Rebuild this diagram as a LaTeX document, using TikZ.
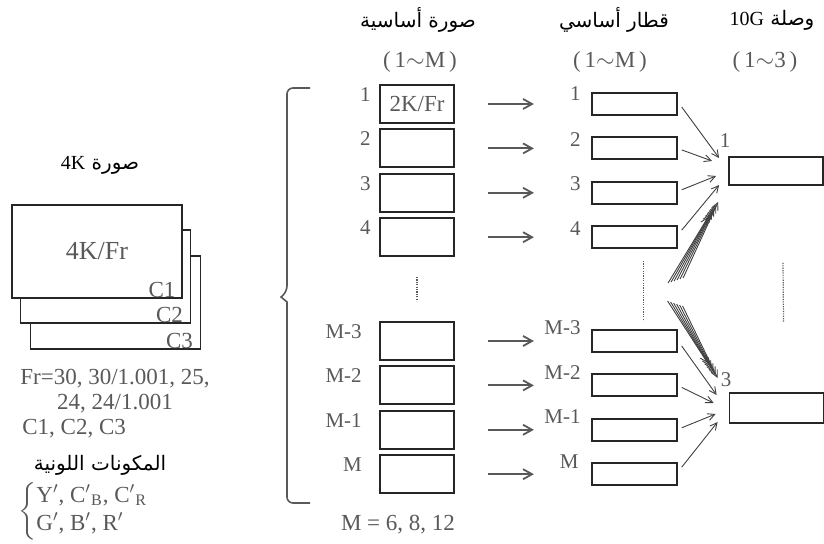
\documentclass[tikz,border=0pt]{standalone}
\usepackage{amsmath}
\usepackage{fontspec}
\setmainfont{Liberation Serif}
\newfontfamily\arabicfont[Script=Arabic]{DejaVu Sans}
\TeXXeTstate=1
\usetikzlibrary{positioning,arrows.meta}
\definecolor{inkgray}{gray}{0.35}
\definecolor{boxline}{gray}{0.15}

\begin{document}
\begin{tikzpicture}[
    x=0.5pt, y=-0.5pt, % one unit = one pixel of the layout, y downwards
    every node/.style={
        text=inkgray,
        font=\fontsize{11.5}{12.5}\selectfont
    },
    title/.style={
        text=black,
        font=\arabicfont\fontsize{10}{12}\selectfont
    },
    sheet/.style={
        rectangle,
        draw=boxline,
        fill=white,
        line width=0.8pt,
        minimum width=85pt,
        minimum height=46.5pt,
        inner sep=0pt
    },
    subbox/.style={
        rectangle,
        draw=boxline,
        line width=0.9pt,
        minimum width=37pt,
        minimum height=19pt,
        inner sep=0pt
    },
    trainbox/.style={
        rectangle,
        draw=boxline,
        line width=0.9pt,
        minimum width=42.5pt,
        minimum height=11pt,
        inner sep=0pt
    },
    linkbox/.style={
        rectangle,
        draw=boxline,
        line width=0.9pt,
        minimum width=47pt,
        minimum height=14pt,
        inner sep=0pt
    },
    idx/.style={
        inner sep=0pt,
        font=\fontsize{10.5}{12}\selectfont
    },
    feed/.style={
        draw=inkgray,
        line width=0.9pt,
        -{Straight Barb[length=4.5pt,width=5pt]},
        shorten <=16.5pt,
        shorten >=28.5pt
    },
    hop/.style={
        draw=black!75,
        line width=0.45pt,
        -{Straight Barb[length=3.5pt,width=3.5pt]}
    },
    vdots/.style={
        draw=inkgray,
        line width=0.6pt,
        dash pattern=on 0.6pt off 0.6pt
    }
]
    \useasboundingbox (0,0) rectangle (824,544);

    % --- 4K picture (left) ---
    \node [title] (pic4k) at (100,165) {\beginR صورة \beginL{\rmfamily 4K}\endL\endR};
    \node [sheet] (c3) at (115.5,302.5) {};
    \node [sheet] (c2) at (105.5,276.5) {};
    \node [sheet, font=\fontsize{13}{14}\selectfont] (c1) at (97,251.5) {4K/Fr};
    \node [anchor=south east, inner sep=0pt] (c1lbl) at ([xshift=-3.5pt,yshift=0.5pt]c1.south east) {C1};
    \node [anchor=south east, inner sep=0pt] (c2lbl) at ([xshift=-4pt,yshift=0.5pt]c2.south east) {C2};
    \node [anchor=south east, inner sep=0pt] (c3lbl) at ([xshift=-4pt,yshift=0.5pt]c3.south east) {C3};

    \node [align=center, inner sep=0pt] (rates) at (115,391) {Fr=30, 30/1.001, 25,\\24, 24/1.001};
    \node [anchor=west, inner sep=0pt] (comps) at (22,429) {C1, C2, C3};
    \node [title] (colour) at (100,465) {\beginR المكونات اللونية\endR};
    \node [anchor=west, inner sep=0pt] (forms) at (18,511)
        {$\left\{\begin{array}{@{}l@{}}
            \text{Y$'$, C$'{}_{\text{B}}$, C$'{}_{\text{R}}$}\\[1.5pt]
            \text{G$'$, B$'$, R$'$}
        \end{array}\right.$};

    % --- Sub images (1~M) ---
    \node [title] (subttl) at (418,20) {\beginR صورة أساسية\endR};
    \node (subrng) at (420,62) {(\,1$\sim$M\,)};

    \node [subbox] (m1) at (417,104) {2K/Fr};
    \node [subbox, below=2.3pt of m1] (m2) {};
    \node [subbox, below=2.3pt of m2] (m3) {};
    \node [subbox, below=2.3pt of m3] (m4) {};
    \node [subbox] (m5) at (417,341) {};
    \node [subbox, below=2.3pt of m5] (m6) {};
    \node [subbox, below=2.3pt of m6] (m7) {};
    \node [subbox, below=2.3pt of m7] (m8) {};

    \node [idx, anchor=north east] (n1) at ([xshift=-4pt,yshift=-1.5pt]m1.north west) {1};
    \node [idx, anchor=north east] (n2) at ([xshift=-4pt,yshift=-1.5pt]m2.north west) {2};
    \node [idx, anchor=north east] (n3) at ([xshift=-4pt,yshift=-1.5pt]m3.north west) {3};
    \node [idx, anchor=north east] (n4) at ([xshift=-4pt,yshift=-1.5pt]m4.north west) {4};
    \node [idx, anchor=north east] (n5) at ([xshift=-8.5pt,yshift=-1.5pt]m5.north west) {M-3};
    \node [idx, anchor=north east] (n6) at ([xshift=-8.5pt,yshift=-1.5pt]m6.north west) {M-2};
    \node [idx, anchor=north east] (n7) at ([xshift=-8.5pt,yshift=-1.5pt]m7.north west) {M-1};
    \node [idx, anchor=north east] (n8) at ([xshift=-8.5pt,yshift=-1.5pt]m8.north west) {M};

    \draw [vdots, shorten <=10pt, shorten >=10pt] (m4) -- (m5);
    \node (mvals) at (398,525) {M = 6, 8, 12};

    % big brace round the sub images
    \draw [inkgray, line width=0.8pt, rounded corners=3pt]
        (310,88) -- (287,88) -- (287,292) [sharp corners] -- (281,297) -- (287,302)
        [rounded corners=3pt] -- (287,503) -- (310,503);

    % --- Sub image trains (1~M) ---
    \node [title] (trnttl) at (614,20) {\beginR قطار أساسي\endR};
    \node (trnrng) at (610,62) {(\,1$\sim$M\,)};

    \node [trainbox, right=68pt of m1] (t1) {};
    \node [trainbox, right=68pt of m2] (t2) {};
    \node [trainbox, right=68pt of m3] (t3) {};
    \node [trainbox, right=68pt of m4] (t4) {};
    \node [trainbox, right=68pt of m5] (t5) {};
    \node [trainbox, right=68pt of m6] (t6) {};
    \node [trainbox, right=68pt of m7] (t7) {};
    \node [trainbox, right=68pt of m8] (t8) {};

    \node [idx, anchor=east] (u1) at ([xshift=-5pt,yshift=-0.5pt]t1.north west) {1};
    \node [idx, anchor=east] (u2) at ([xshift=-5pt,yshift=-1.5pt]t2.north west) {2};
    \node [idx, anchor=east] (u3) at ([xshift=-5pt,yshift=-1.5pt]t3.north west) {3};
    \node [idx, anchor=east] (u4) at ([xshift=-5pt,yshift=-1.5pt]t4.north west) {4};
    \node [idx, anchor=east] (u5) at ([xshift=-5pt,yshift=0.5pt]t5.north west) {M-3};
    \node [idx, anchor=east] (u6) at ([xshift=-5pt,yshift=0.5pt]t6.north west) {M-2};
    \node [idx, anchor=east] (u7) at ([xshift=-5pt,yshift=0.5pt]t7.north west) {M-1};
    \node [idx, anchor=east] (u8) at ([xshift=-6pt,yshift=0.5pt]t8.north west) {M};

    \draw [vdots] ([xshift=4.75pt,yshift=-6pt]t4.south) -- ([xshift=4.75pt,yshift=4pt]t5.north);

    % 1. sub image -> train
    \path [feed] (m1) -- (t1);
    \path [feed] (m2) -- (t2);
    \path [feed] (m3) -- (t3);
    \path [feed] (m4) -- (t4);
    \path [feed] (m5) -- (t5);
    \path [feed] (m6) -- (t6);
    \path [feed] (m7) -- (t7);
    \path [feed] (m8) -- (t8);

    % --- 10G links (1~3) ---
    \node [title] (lnkttl) at (772,20) {\beginR وصلة \beginL{\rmfamily 10G}\endL\endR};
    \node (lnkrng) at (765,62) {(\,1$\sim$3\,)};

    \node [linkbox] (l1) at (776,171) {};
    \node [linkbox, minimum height=15pt] (l3) at (776.5,408) {};
    \node [idx] (k1) at (725,141) {1};
    \node [idx] (k3) at (726,380) {3};

    \draw [vdots] ([xshift=3.5pt,yshift=-38.5pt]l1.south) -- ([xshift=3.5pt,yshift=35pt]l3.north);

    % 2. trains -> link 1
    \coordinate (in1a) at ([xshift=-4.5pt,yshift=6.5pt]l1.west);
    \coordinate (in1b) at ([xshift=-8pt,yshift=5pt]l1.west);
    \coordinate (in1c) at ([xshift=-6pt,yshift=-2.5pt]l1.west);
    \coordinate (in1d) at ([xshift=-4.5pt,yshift=-7pt]l1.west);
    \path [hop] ([xshift=2pt,yshift=-1.5pt]t1.east) -- (in1a);
    \path [hop] ([xshift=2pt,yshift=-0.75pt]t2.east) -- (in1b);
    \path [hop] ([xshift=2pt,yshift=1.5pt]t3.east) -- (in1c);
    \path [hop] ([xshift=2pt,yshift=3.5pt]t4.east) -- (in1d);
    \foreach \k in {0,...,5} {
        \coordinate (up\k) at ([xshift={-30pt+1.5pt*\k},yshift={-56pt+0.5pt*\k}]l1.west);
        \coordinate (upin\k) at ([xshift={-10pt+1pt*\k},yshift={-23pt+1.5pt*\k}]l1.west);
        \path [hop] (up\k) -- (upin\k);
    }

    % 3. trains -> link 3
    \coordinate (in3a) at ([xshift=-6pt,yshift=6.5pt]l3.west);
    \coordinate (in3b) at ([xshift=-7.5pt,yshift=2.5pt]l3.west);
    \coordinate (in3c) at ([xshift=-6.5pt,yshift=-3pt]l3.west);
    \coordinate (in3d) at ([xshift=-5.5pt,yshift=-7pt]l3.west);
    \path [hop] ([xshift=2pt,yshift=-2.5pt]t5.east) -- (in3a);
    \path [hop] ([xshift=2pt,yshift=-1pt]t6.east) -- (in3b);
    \path [hop] ([xshift=2pt,yshift=1pt]t7.east) -- (in3c);
    \path [hop] ([xshift=2pt,yshift=3.5pt]t8.east) -- (in3d);
    \foreach \k in {0,...,5} {
        \coordinate (dn\k) at ([xshift={-30.5pt+1.5pt*\k},yshift={53.5pt-0.5pt*\k}]l3.west);
        \coordinate (dnin\k) at ([xshift={-10.5pt+1pt*\k},yshift={22.5pt-1.5pt*\k}]l3.west);
        \path [hop] (dn\k) -- (dnin\k);
    }

\end{tikzpicture}
\end{document}
